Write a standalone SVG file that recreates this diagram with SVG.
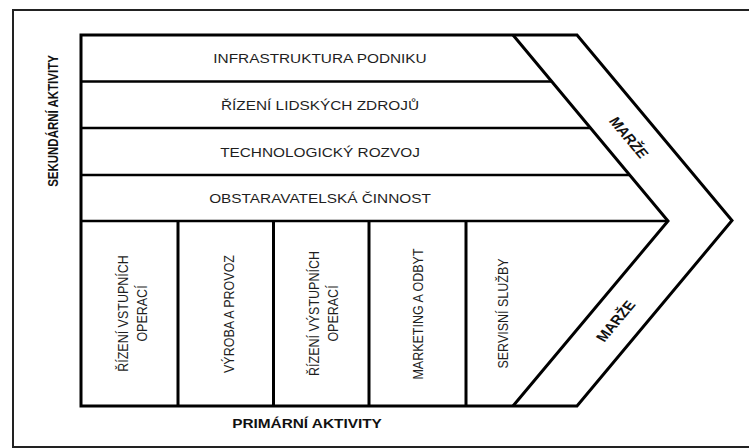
<svg xmlns="http://www.w3.org/2000/svg" width="749" height="448" viewBox="0 0 749 448">
<style>
.t{font-family:"Liberation Sans",Arial,sans-serif;font-size:12.5px;fill:#1e1e1e;text-anchor:middle}
.b{font-weight:bold;fill:#111}
.ln{fill:none;stroke:#000;stroke-width:3;stroke-linejoin:miter}
.thin{fill:none;stroke:#000;stroke-width:2.5}
.frame{fill:none;stroke:#222;stroke-width:2}
</style>
<rect width="749" height="448" fill="#fff"/>
<path class="frame" d="M749,10 H13 V447 H749"/>
<g id="connectors">
<path class="ln" d="M81,35 H577 L732,220.5 L577,406 H81 Z"/>
<path class="ln" d="M513,35 L668,221 L513,406"/>
<path class="thin" d="M81,81.5 H551 M81,128 H590 M81,175 H629 M81,221 H668"/>
<path class="ln" d="M178,221 V406 M273.5,221 V406 M369,221 V406 M466,221 V406"/>
</g>
<g id="infrastruktura"><text class="t" transform="translate(320,58.5) scale(1.23,1)" dy="0.36em">INFRASTRUKTURA PODNIKU</text></g>
<g id="rizeni-lz"><text class="t" transform="translate(320,105.5) scale(1.23,1)" dy="0.36em">ŘÍZENÍ LIDSKÝCH ZDROJŮ</text></g>
<g id="technologicky"><text class="t" transform="translate(320,152) scale(1.23,1)" dy="0.36em">TECHNOLOGICKÝ ROZVOJ</text></g>
<g id="obstaravatelska"><text class="t" transform="translate(320,198.5) scale(1.23,1)" dy="0.36em">OBSTARAVATELSKÁ ČINNOST</text></g>
<g id="vstupni"><g transform="translate(132,313.5) scale(1.23,1) rotate(-90)"><text class="t" y="-8" dy="0.36em">ŘÍZENÍ VSTUPNÍCH</text><text class="t" y="8" dy="0.36em">OPERACÍ</text></g></g>
<g id="vyroba"><text class="t" transform="translate(228,314) scale(1.23,1) rotate(-90)" dy="0.36em">VÝROBA A PROVOZ</text></g>
<g id="vystupni"><g transform="translate(323,313.5) scale(1.23,1) rotate(-90)"><text class="t" y="-8" dy="0.36em">ŘÍZENÍ VÝSTUPNÍCH</text><text class="t" y="8" dy="0.36em">OPERACÍ</text></g></g>
<g id="marketing"><text class="t" transform="translate(417,314) scale(1.23,1) rotate(-90)" dy="0.36em">MARKETING A ODBYT</text></g>
<g id="servisni"><text class="t" transform="translate(502,313.5) scale(1.23,1) rotate(-90)" dy="0.36em">SERVISNÍ SLUŽBY</text></g>
<g id="marze-top"><text class="t b" style="font-size:13px" transform="translate(629,137.5) scale(1.23,1) rotate(55.5)" dy="0.36em">MARŽE</text></g>
<g id="marze-bottom"><text class="t b" style="font-size:13px" transform="translate(615.5,321) scale(1.23,1) rotate(-55.5)" dy="0.36em">MARŽE</text></g>
<g id="primarni"><text class="t b" transform="translate(307,423) scale(1.23,1)" dy="0.36em">PRIMÁRNÍ AKTIVITY</text></g>
<g id="sekundarni"><text class="t b" style="font-size:11.5px" transform="translate(52.5,121) scale(1.23,1) rotate(-90)" dy="0.36em">SEKUNDÁRNÍ AKTIVITY</text></g>
</svg>
